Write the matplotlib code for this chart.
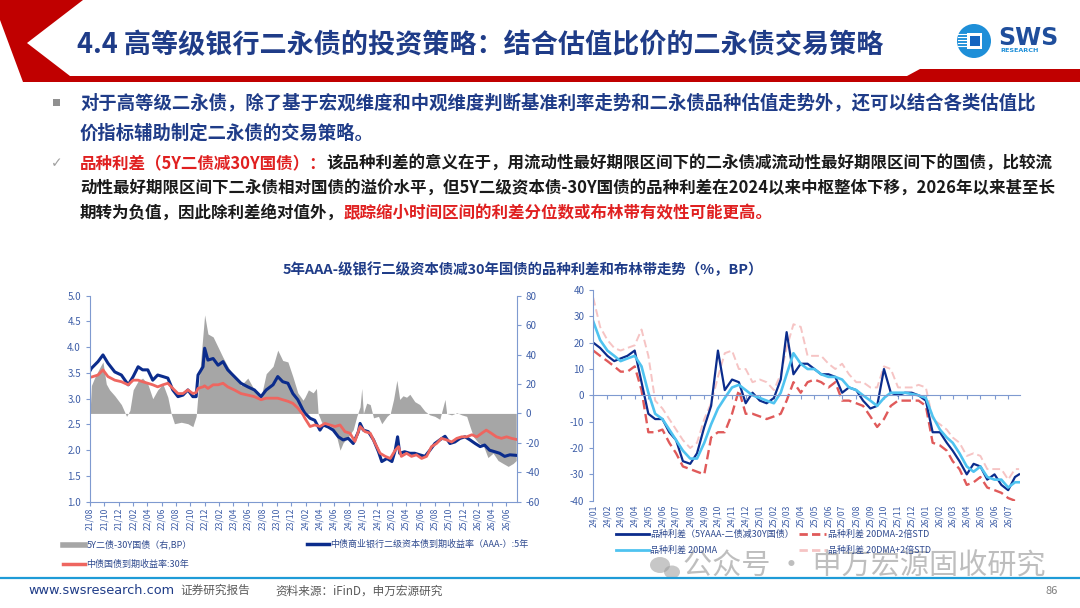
import numpy as np
import pandas as pd
import matplotlib
matplotlib.use('Agg')
import matplotlib.pyplot as plt
import matplotlib.dates as mdates
from matplotlib.patches import Polygon, Circle, Rectangle, Ellipse
from matplotlib.lines import Line2D

plt.rcParams['font.family'] = ['Noto Sans CJK SC', 'DejaVu Sans']
plt.rcParams['axes.unicode_minus'] = False

# ---- left chart: spread 5Y tier-2 minus 30Y CGB (BP, right axis)
spread_dates = ['2021-08-02', '2021-08-07', '2021-08-20', '2021-09-11', '2021-09-25', '2021-10-09',
                '2021-10-23', '2021-11-14', '2021-11-28', '2021-12-12', '2022-01-03', '2022-01-17',
                '2022-01-31', '2022-02-21', '2022-03-12', '2022-04-03', '2022-04-24', '2022-05-15',
                '2022-06-06', '2022-06-27', '2022-07-11', '2022-07-25', '2022-08-23', '2022-09-20',
                '2022-10-11', '2022-10-25', '2022-11-09', '2022-11-30', '2022-12-14', '2023-01-05',
                '2023-01-26', '2023-02-16', '2023-03-08', '2023-04-05', '2023-05-03', '2023-06-01',
                '2023-06-29', '2023-07-27', '2023-08-18', '2023-09-16', '2023-10-06', '2023-10-27',
                '2023-11-18', '2023-12-09', '2023-12-30', '2024-01-21', '2024-01-29', '2024-02-13',
                '2024-03-04', '2024-03-18', '2024-03-25', '2024-04-09', '2024-04-30', '2024-05-21',
                '2024-06-12', '2024-06-26', '2024-07-09', '2024-07-31', '2024-08-21', '2024-09-05',
                '2024-09-19', '2024-09-26', '2024-10-03', '2024-10-17', '2024-11-01', '2024-11-15',
                '2024-12-06', '2024-12-20', '2025-01-11', '2025-01-25', '2025-02-08', '2025-02-22',
                '2025-03-06', '2025-03-20', '2025-04-04', '2025-04-18', '2025-05-09', '2025-05-30',
                '2025-06-21', '2025-07-12', '2025-08-02', '2025-08-23', '2025-09-14', '2025-09-21',
                '2025-10-12', '2025-11-03', '2025-11-24', '2025-12-15', '2025-12-29', '2026-01-13',
                '2026-02-03', '2026-02-24', '2026-03-15', '2026-04-06', '2026-04-27', '2026-05-18',
                '2026-06-09', '2026-06-30', '2026-07-13']
spread_bp = [3, 19, 24, 31, 35, 20,
             16, 12, 9, 6, -2, 2,
             16, 22, 24, 20, 10, 16,
             20, 11, 0, -7, -6, -7,
             -9, -2, 27, 67, 54, 52,
             45, 38, 32, 25, 19, 24,
             16, 11, 27, 32, 43, 36,
             35, 25, 14, 9, 11, 16,
             14, 17, 0, -6, -7, -9,
             -16, -25, -20, -16, -11, -2,
             4.5, 17, 0, 7, 6, -3,
             -2, -7, -2, 0, 9.5, 22.5,
             9.5, 12, 11, 13, 8, 6,
             1.5, -1, -2, -4, 9.5, 0,
             -1, 0.5, -1, -2, -9, -16,
             -20, -22, -30, -27, -32, -34,
             -36, -34, -32]

# ---- left chart: 5Y AAA- bank tier-2 yield (%)
tier2_dates = ['2021-08-02', '2021-08-07', '2021-09-04', '2021-09-25', '2021-10-16', '2021-11-14',
               '2021-12-12', '2022-01-10', '2022-01-31', '2022-02-21', '2022-03-12', '2022-04-03',
               '2022-04-24', '2022-05-15', '2022-06-06', '2022-06-27', '2022-07-18', '2022-08-09',
               '2022-08-30', '2022-09-20', '2022-10-11', '2022-10-25', '2022-11-02', '2022-11-23',
               '2022-11-30', '2022-12-14', '2023-01-05', '2023-01-26', '2023-02-16', '2023-03-08',
               '2023-04-05', '2023-05-03', '2023-06-01', '2023-06-29', '2023-07-27', '2023-08-18',
               '2023-09-16', '2023-10-06', '2023-10-27', '2023-11-18', '2023-12-09', '2023-12-30',
               '2024-01-21', '2024-01-29', '2024-02-20', '2024-03-11', '2024-04-02', '2024-04-16',
               '2024-05-07', '2024-05-28', '2024-06-19', '2024-07-09', '2024-07-31', '2024-08-21',
               '2024-09-12', '2024-09-19', '2024-10-03', '2024-10-24', '2024-11-15', '2024-12-06',
               '2024-12-20', '2025-01-11', '2025-02-01', '2025-02-15', '2025-02-25', '2025-03-06',
               '2025-03-27', '2025-04-18', '2025-05-09', '2025-05-30', '2025-06-21', '2025-07-12',
               '2025-08-02', '2025-08-23', '2025-09-14', '2025-10-05', '2025-10-26', '2025-11-17',
               '2025-12-08', '2025-12-29', '2026-01-20', '2026-02-10', '2026-03-01', '2026-03-22',
               '2026-04-13', '2026-05-04', '2026-05-25', '2026-06-16', '2026-07-13']
tier2_5y = [3.55, 3.59, 3.72, 3.85, 3.69, 3.52,
            3.46, 3.27, 3.43, 3.62, 3.56, 3.56,
            3.36, 3.46, 3.43, 3.40, 3.17, 3.04,
            3.07, 3.17, 3.04, 3.04, 3.46, 3.62,
            3.98, 3.75, 3.78, 3.65, 3.72, 3.56,
            3.43, 3.30, 3.23, 3.17, 3.04, 3.17,
            3.27, 3.43, 3.33, 3.30, 3.10, 2.98,
            2.78, 2.72, 2.62, 2.58, 2.39, 2.49,
            2.45, 2.39, 2.26, 2.20, 2.23, 2.13,
            2.36, 2.52, 2.39, 2.36, 2.20, 1.97,
            1.78, 1.84, 1.78, 2.00, 2.26, 1.94,
            1.97, 1.94, 1.94, 1.91, 1.88, 2.00,
            2.13, 2.20, 2.27, 2.13, 2.16, 2.23,
            2.26, 2.20, 2.13, 2.07, 2.10, 2.00,
            1.97, 1.94, 1.88, 1.91, 1.90]

# ---- left chart: 30Y CGB yield (%)
cgb_dates = ['2021-08-02', '2021-08-07', '2021-09-04', '2021-09-25', '2021-10-16', '2021-11-14',
             '2021-12-12', '2022-01-10', '2022-01-31', '2022-02-21', '2022-03-12', '2022-04-03',
             '2022-04-24', '2022-05-15', '2022-06-06', '2022-06-27', '2022-07-18', '2022-08-09',
             '2022-08-30', '2022-09-20', '2022-10-11', '2022-10-25', '2022-11-02', '2022-11-23',
             '2022-11-30', '2022-12-14', '2023-01-05', '2023-01-26', '2023-02-16', '2023-03-08',
             '2023-04-05', '2023-05-03', '2023-06-01', '2023-06-29', '2023-07-27', '2023-08-18',
             '2023-09-16', '2023-10-06', '2023-10-27', '2023-11-18', '2023-12-09', '2023-12-30',
             '2024-01-21', '2024-01-29', '2024-02-20', '2024-03-11', '2024-04-02', '2024-04-23',
             '2024-05-14', '2024-06-05', '2024-06-26', '2024-07-17', '2024-08-07', '2024-08-28',
             '2024-09-19', '2024-10-10', '2024-11-01', '2024-11-22', '2024-12-13', '2025-01-04',
             '2025-01-25', '2025-02-15', '2025-03-01', '2025-03-13', '2025-04-04', '2025-04-25',
             '2025-05-16', '2025-06-07', '2025-06-28', '2025-07-19', '2025-08-09', '2025-08-30',
             '2025-09-21', '2025-10-12', '2025-11-03', '2025-11-24', '2025-12-15', '2026-01-06',
             '2026-01-27', '2026-02-17', '2026-03-08', '2026-03-29', '2026-04-20', '2026-05-11',
             '2026-06-02', '2026-06-23', '2026-07-13']
cgb_30y = [3.42, 3.42, 3.46, 3.56, 3.43, 3.36,
           3.33, 3.27, 3.36, 3.36, 3.33, 3.30,
           3.27, 3.23, 3.27, 3.30, 3.20, 3.10,
           3.10, 3.17, 3.10, 3.12, 3.20, 3.23,
           3.25, 3.20, 3.27, 3.27, 3.30, 3.23,
           3.17, 3.10, 3.07, 3.04, 2.98, 3.01,
           3.01, 3.01, 2.98, 2.95, 2.91, 2.82,
           2.69, 2.62, 2.46, 2.49, 2.46, 2.52,
           2.49, 2.46, 2.49, 2.36, 2.33, 2.17,
           2.46, 2.36, 2.33, 2.13, 1.94, 1.88,
           1.84, 2.00, 2.07, 1.88, 1.94, 1.88,
           1.91, 1.84, 1.88, 2.07, 2.13, 2.23,
           2.20, 2.16, 2.23, 2.26, 2.26, 2.30,
           2.26, 2.33, 2.39, 2.33, 2.26, 2.23,
           2.26, 2.23, 2.21]

# ---- right chart: spread and Bollinger band (BP), semi-monthly
right_dates = ['2024-01-01', '2024-01-16', '2024-02-01', '2024-02-16', '2024-03-01', '2024-03-16',
               '2024-04-01', '2024-04-16', '2024-05-01', '2024-05-16', '2024-06-01', '2024-06-16',
               '2024-07-01', '2024-07-16', '2024-08-01', '2024-08-16', '2024-09-01', '2024-09-16',
               '2024-10-01', '2024-10-16', '2024-11-01', '2024-11-16', '2024-12-01', '2024-12-16',
               '2025-01-01', '2025-01-16', '2025-02-01', '2025-02-16', '2025-03-01', '2025-03-16',
               '2025-04-01', '2025-04-16', '2025-05-01', '2025-05-16', '2025-06-01', '2025-06-16',
               '2025-07-01', '2025-07-16', '2025-08-01', '2025-08-16', '2025-09-01', '2025-09-16',
               '2025-10-01', '2025-10-16', '2025-11-01', '2025-11-16', '2025-12-01', '2025-12-16',
               '2026-01-01', '2026-01-16', '2026-02-01', '2026-02-16', '2026-03-01', '2026-03-16',
               '2026-04-01', '2026-04-16', '2026-05-01', '2026-05-16', '2026-06-01', '2026-06-16',
               '2026-07-01', '2026-07-16', '2026-07-25']
spread = [20, 18, 15, 13, 14, 15, 17, 5, -7, -9, -9, -14,
          -17, -25, -26, -22, -12, -4, 17, 2, 6, 5, -3, 1,
          -2, -3, -1, 6, 24, 8, 12, 12, 10, 8, 8, 7,
          1, 3, 2, -2, -5, -4, 10, 1, 0, 1, 1, 0,
          -2, -14, -14, -18, -21, -25, -30, -26, -27, -32, -30, -34,
          -36, -31, -30]
ma20 = [28, 21, 17, 15, 13, 14, 15, 11, 1, -7, -9, -13,
        -17, -21, -24, -24, -18, -11, -5, -1, 3, 4, 2, 0,
        -1, -2, -3, 1, 8, 16, 12, 10, 10, 8, 7, 7,
        6, 3, 2, 0, -2, -4, -1, 1, 1, 1, 0.5, 0,
        -1, -8, -13, -16, -18, -22, -27, -29, -27, -31, -32, -32,
        -35, -33, -33]
band_low = [17, 15, 13, 11, 9, 9, 11, 2, -14, -14, -13, -18,
            -22, -27, -28, -29, -30, -16, -14, -14, -7, 2, -7, -7,
            -8, -9, -8, -7, -2, 5, 1, 5, 6, 5, 3, 5,
            -2, -2, -3, -4, -8, -12, -9, -4, -2, -2, -2, -2,
            -4, -18, -19, -21, -25, -28, -34, -33, -31, -35, -36, -37,
            -39, -40, -40]
band_up = [37, 26, 21, 18, 17, 18, 19, 25, 15, -2, -5, -9,
           -13, -17, -20, -18, -9, -3, 7, 16, 17, 10, 10, 5,
           6, 5, 2, 8, 18, 27, 26, 15, 15, 15, 12, 10,
           12, 8, 5, 5, 3, 3, 11, 10, 3, 3, 3, 4,
           3, -9, -11, -13, -16, -18, -23, -22, -23, -28, -28, -28,
           -32, -28, -28]

NAVY = '#0B2C8C'
TITLE_BLUE = '#1F3C88'
TICK_C = '#3F5FA8'
SPINE_C = '#7F9AD0'

W, H = 1080, 608


def fx(x):
    return x / W


def fy(y):
    return 1 - y / H


def put_runs(ax, x, y, runs, size):
    """Write coloured runs of text one after the other on a line."""
    t = ax.text(x, y, runs[0][0], color=runs[0][1], fontsize=size, fontweight='bold',
                va='center', ha='left')
    for s, c in runs[1:]:
        t = ax.annotate(s, xy=(1, 0.5), xycoords=t, color=c, fontsize=size,
                        fontweight='bold', va='center', ha='left')
    return t


fig = plt.figure(figsize=(10.8, 6.08), dpi=100)
bg = fig.add_axes([0, 0, 1, 1])
bg.set_xlim(0, W)
bg.set_ylim(H, 0)
bg.axis('off')

# header band
bg.add_patch(Polygon([(0, 0), (83, 0), (27, 43), (70, 76), (907, 76), (920, 69), (1080, 69),
                      (1080, 82), (23, 82), (0, 20)], closed=True, color='#C00000', lw=0))
bg.text(77, 45, '4.4 高等级银行二永债的投资策略：结合估值比价的二永债交易策略',
        color=TITLE_BLUE, fontsize=19.5, fontweight='bold', va='center', ha='left')

# logo
bg.add_patch(Circle((974, 41), 17, color='#1E8FD8', lw=0))
bg.add_patch(Rectangle((967, 33), 15, 16, color='white', lw=0))
bg.add_patch(Rectangle((970, 36), 10, 10, color='#1565C0', lw=0))
for yy in (34, 37, 40, 43, 46):
    bg.plot([958, 967], [yy, yy], color='white', lw=0.8)
bg.text(998, 38, 'SWS', color='#1F4E9C', fontsize=17, fontweight='bold', va='center',
        ha='left', family='DejaVu Sans')
bg.text(1000, 51, 'RESEARCH', color='#1E8FD8', fontsize=4.6, fontweight='bold', va='center',
        ha='left', family='DejaVu Sans')

# body text
bg.add_patch(Rectangle((53, 99), 7, 7, color='#909090', lw=0))
put_runs(bg, 80, 103, [('对于高等级二永债，除了基于宏观维度和中观维度判断基准利率走势和二永债品种估值走势外，还可以结合各类估值比',
                        TITLE_BLUE)], 13.2)
put_runs(bg, 80, 133, [('价指标辅助制定二永债的交易策略。', TITLE_BLUE)], 13.2)
bg.text(57, 163, '✓', color='#A0A0A0', fontsize=10, va='center', ha='center', family='DejaVu Sans')
put_runs(bg, 80, 163, [('品种利差（5Y二债减30Y国债）：', '#E02020'),
                       ('该品种利差的意义在于，用流动性最好期限区间下的二永债减流动性最好期限区间下的国债，比较流', '#1A1A1A')], 11.9)
put_runs(bg, 80, 188, [('动性最好期限区间下二永债相对国债的溢价水平，但5Y二级资本债-30Y国债的品种利差在2024以来中枢整体下移，2026年以来甚至长',
                        '#1A1A1A')], 11.9)
put_runs(bg, 80, 213, [('期转为负值，因此除利差绝对值外，', '#1A1A1A'),
                       ('跟踪缩小时间区间的利差分位数或布林带有效性可能更高。', '#E02020')], 11.9)

bg.text(523, 270, '5年AAA-级银行二级资本债减30年国债的品种利差和布林带走势（%，BP）',
        color=TITLE_BLUE, fontsize=10.4, fontweight='bold', va='center', ha='center')

# ---- left chart
axL = fig.add_axes([fx(90), fy(501.7), fx(516.7 - 90), (501.7 - 295.7) / H])
axL2 = axL.twinx()
axL2.fill_between(pd.to_datetime(spread_dates), 0, spread_bp, color='#A6A6A6', lw=0)
axL.plot(pd.to_datetime(tier2_dates), tier2_5y, color=NAVY, lw=2.2)
axL.plot(pd.to_datetime(cgb_dates), cgb_30y, color='#EE6660', lw=2.0)
axL.set_zorder(axL2.get_zorder() + 1)
axL.patch.set_visible(False)

axL.set_ylim(1.0, 5.0)
axL.set_yticks(np.arange(1.0, 5.01, 0.5))
axL.yaxis.set_major_formatter(plt.FormatStrFormatter('%.1f'))
axL2.set_ylim(-60, 80)
axL2.set_yticks(np.arange(-60, 81, 20))
axL.set_xlim(pd.Timestamp('2021-08-01'), pd.Timestamp('2026-07-15'))
axL.xaxis.set_major_locator(mdates.MonthLocator(bymonth=[2, 4, 6, 8, 10, 12]))
axL.xaxis.set_major_formatter(mdates.DateFormatter('%y/%m'))
for a in (axL, axL2):
    a.spines['top'].set_visible(False)
    for s in ('left', 'right', 'bottom'):
        a.spines[s].set_color(SPINE_C)
    a.tick_params(colors=SPINE_C, labelcolor=TICK_C, labelsize=7, length=3)
axL.spines['right'].set_visible(False)
axL2.spines['left'].set_visible(False)
axL2.spines['bottom'].set_visible(False)
axL.tick_params(axis='x', labelrotation=90, labelsize=6.2, pad=1)

h_gray = Line2D([], [], color='#A6A6A6', lw=4)
h_navy = Line2D([], [], color=NAVY, lw=2.5)
h_red = Line2D([], [], color='#EE6660', lw=2.5)
leg_kw = dict(loc='upper left', frameon=False, fontsize=6.5, handletextpad=0.2,
              borderpad=0, borderaxespad=0, labelcolor='#2F4A8F')
fig.legend([h_gray, h_red], ['5Y二债-30Y国债（右,BP）', '中债国债到期收益率:30年'],
           bbox_to_anchor=(fx(63), fy(540)), handlelength=2.4, labelspacing=1.15, **leg_kw)
fig.legend([h_navy], ['中债商业银行二级资本债到期收益率（AAA-）:5年'],
           bbox_to_anchor=(fx(307), fy(540)), handlelength=2.4, **leg_kw)

# ---- right chart
rd = pd.to_datetime(right_dates)
axR = fig.add_axes([fx(593.3), fy(500.7), fx(1020 - 593.3), (500.7 - 290) / H])
axR.plot(rd, band_up, color='#F6C4C4', lw=1.4, ls=(0, (4, 2)))
axR.plot(rd, band_low, color='#E05A5A', lw=1.7, ls=(0, (4, 2)))
axR.plot(rd, spread, color=NAVY, lw=1.6)
axR.plot(rd, ma20, color='#4FC3F0', lw=1.9)
axR.set_ylim(-40, 40)
axR.set_yticks(np.arange(-40, 41, 10))
axR.set_xlim(pd.Timestamp('2024-01-01'), pd.Timestamp('2026-07-27'))
axR.patch.set_visible(False)
for s in ('top', 'right'):
    axR.spines[s].set_visible(False)
axR.spines['left'].set_color(SPINE_C)
axR.spines['bottom'].set_color(SPINE_C)
axR.spines['bottom'].set_position(('data', 0))
axR.xaxis.set_major_locator(mdates.MonthLocator())
axR.tick_params(colors=SPINE_C, labelcolor=TICK_C, labelsize=7, length=3)
axR.tick_params(axis='x', labelbottom=False)
xt = axR.get_xaxis_transform()
for d in pd.date_range('2024-01-01', '2026-07-01', freq='MS'):
    axR.text(d, -0.02, d.strftime('%y/%m'), transform=xt, rotation=90, fontsize=6.2,
             color=TICK_C, ha='center', va='top')

h_cyan = Line2D([], [], color='#4FC3F0', lw=2)
h_low = Line2D([], [], color='#E05A5A', lw=2, ls=(0, (3, 1.5)))
h_up = Line2D([], [], color='#F6C4C4', lw=2, ls=(0, (3, 1.5)))
fig.legend([Line2D([], [], color=NAVY, lw=2), h_cyan],
           ['品种利差（5YAAA-二债减30Y国债）', '品种利差 20DMA'],
           bbox_to_anchor=(fx(616), fy(530)), handlelength=3.6, labelspacing=0.75, **leg_kw)
fig.legend([h_low, h_up], ['品种利差 20DMA-2倍STD', '品种利差 20DMA+2倍STD'],
           bbox_to_anchor=(fx(799), fy(530)), handlelength=3.0, labelspacing=0.75, **leg_kw)

# ---- footer and watermark (overlay)
top = fig.add_axes([0, 0, 1, 1])
top.set_xlim(0, W)
top.set_ylim(H, 0)
top.axis('off')
top.add_patch(Ellipse((660, 565), 20, 16, color='#9A9A9A', alpha=0.55, lw=0))
top.add_patch(Ellipse((672, 572), 16, 13, color='#9A9A9A', alpha=0.55, lw=0))
top.text(683, 567, '公众号 · 申万宏源固收研究', color='#8A8A8A', alpha=0.55, fontsize=21,
         va='center', ha='left')
top.plot([0, W], [578, 578], color='#1E9BD7', lw=1.6)
top.text(28, 591, 'www.swsresearch.com', color=TITLE_BLUE, fontsize=9.3, va='center', ha='left',
         family='DejaVu Sans')
top.text(180, 590, '证券研究报告', color='#595959', fontsize=8.4, va='center', ha='left')
top.text(275, 591, '资料来源：iFinD，申万宏源研究', color='#595959', fontsize=8.4, va='center', ha='left')
top.text(1045, 591, '86', color='#7F7F7F', fontsize=8, va='center', ha='left')

fig.savefig('out.png', dpi=100, facecolor='white')
